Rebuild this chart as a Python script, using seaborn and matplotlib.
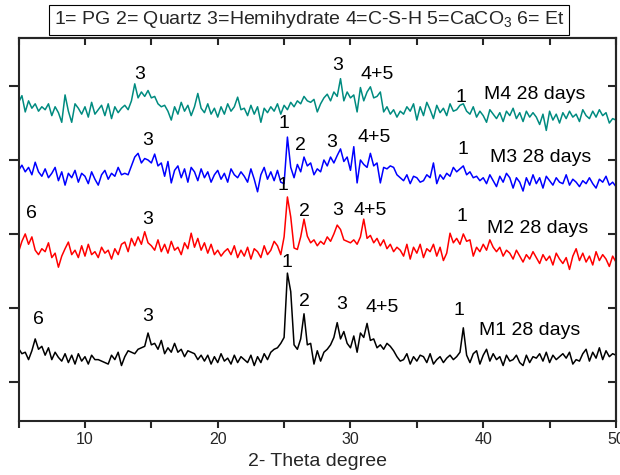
import numpy as np
import pandas as pd
import matplotlib
matplotlib.use("Agg")
import matplotlib.pyplot as plt
from matplotlib.ticker import MultipleLocator, NullFormatter
import seaborn as sns

# 2-theta grid (degrees)
two_theta = np.arange(5.0, 50.0001, 0.25)

# Intensities (arbitrary units), 4 points per degree
m1 = [45, 38, 40, 30, 42, 58, 44, 48, 36, 46, 30, 40, 33, 28, 38, 26,
      36, 24, 38, 28, 34, 24, 36, 30, 30, 28, 26, 24, 36, 30, 40, 22,
      34, 42, 40, 38, 44, 46, 48, 66, 50, 52, 44, 56, 38, 46, 40, 52,
      40, 44, 34, 42, 40, 38, 30, 36, 28, 36, 24, 34, 26, 38, 28, 32,
      24, 36, 26, 34, 30, 26, 36, 22, 34, 26, 38, 30, 40, 44, 46, 52,
      60, 147, 122, 50, 44, 58, 92, 50, 52, 24, 42, 28, 40, 44, 50, 60,
      80, 58, 68, 52, 46, 62, 40, 66, 60, 79, 56, 58, 46, 50, 44, 52,
      48, 42, 34, 28, 30, 38, 24, 34, 28, 36, 34, 26, 38, 24, 30, 34,
      26, 32, 36, 30, 34, 40, 73, 36, 26, 38, 42, 24, 36, 44, 28, 38,
      30, 34, 22, 36, 28, 30, 36, 26, 22, 36, 26, 34, 32, 38, 28, 40,
      26, 36, 30, 34, 38, 32, 40, 24, 30, 28, 38, 44, 28, 40, 32, 46,
      30, 42, 34, 38, 36]
m2 = [36, 50, 60, 46, 56, 38, 32, 40, 36, 48, 28, 34, 15, 30, 40, 49,
      32, 38, 28, 44, 30, 46, 32, 36, 28, 42, 34, 38, 26, 40, 32, 46,
      49, 36, 54, 44, 56, 46, 63, 48, 44, 38, 52, 36, 46, 34, 50, 38,
      42, 32, 48, 40, 61, 42, 54, 38, 48, 34, 46, 32, 38, 30, 36, 40,
      32, 44, 28, 38, 30, 42, 26, 40, 36, 28, 44, 32, 38, 50, 44, 32,
      56, 110, 83, 41, 39, 56, 80, 57, 48, 52, 44, 50, 46, 56, 50, 60,
      72, 66, 52, 50, 48, 52, 46, 56, 80, 54, 58, 48, 54, 44, 52, 40,
      46, 36, 42, 38, 30, 46, 26, 42, 34, 46, 28, 40, 36, 46, 30, 42,
      24, 34, 61, 48, 54, 46, 60, 50, 52, 30, 42, 36, 46, 38, 52, 42,
      36, 42, 30, 38, 34, 26, 38, 30, 22, 32, 26, 36, 28, 20, 32, 24,
      30, 18, 34, 26, 20, 28, 12, 30, 40, 24, 34, 22, 30, 18, 36, 24,
      32, 26, 16, 30, 22]
m3 = [36, 43, 34, 40, 30, 47, 34, 28, 38, 26, 32, 40, 22, 34, 16, 32,
      26, 36, 20, 32, 28, 18, 34, 24, 16, 30, 36, 24, 32, 28, 40, 30,
      32, 30, 42, 54, 59, 46, 52, 50, 46, 58, 42, 46, 28, 48, 19, 36,
      42, 26, 38, 20, 40, 34, 22, 38, 26, 34, 20, 30, 36, 24, 32, 20,
      38, 30, 26, 34, 28, 20, 38, 24, 7, 30, 40, 24, 34, 22, 36, 20,
      18, 81, 40, 26, 44, 34, 54, 42, 46, 30, 38, 34, 50, 42, 54, 46,
      56, 65, 48, 54, 36, 68, 19, 50, 44, 40, 59, 42, 46, 19, 40, 38,
      42, 40, 30, 26, 22, 30, 18, 28, 26, 20, 22, 30, 26, 46, 18, 30,
      24, 32, 28, 40, 34, 38, 42, 30, 34, 26, 28, 22, 26, 18, 30, 22,
      14, 28, 20, 32, 26, 12, 26, 20, 8, 26, 16, 30, 18, 26, 12, 28,
      22, 16, 26, 20, 18, 30, 16, 24, 20, 14, 22, 18, 26, 18, 12, 24,
      20, 28, 16, 20, 14]
m4 = [38, 47, 25, 40, 30, 36, 26, 32, 28, 36, 20, 32, 24, 11, 48, 26,
      11, 36, 30, 22, 32, 18, 38, 22, 28, 34, 20, 36, 16, 32, 24, 30,
      34, 28, 40, 63, 44, 52, 46, 54, 44, 46, 36, 32, 34, 26, 14, 32,
      22, 38, 26, 34, 20, 32, 50, 30, 24, 36, 22, 30, 18, 32, 22, 36,
      26, 32, 45, 28, 30, 20, 34, 22, 32, 11, 30, 24, 32, 26, 36, 22,
      34, 28, 38, 32, 40, 36, 46, 40, 38, 42, 25, 36, 44, 49, 40, 52,
      46, 70, 40, 52, 44, 48, 25, 58, 40, 52, 59, 44, 46, 52, 25, 32,
      22, 28, 18, 26, 22, 32, 26, 36, 14, 32, 20, 38, 28, 16, 34, 24,
      30, 20, 36, 26, 28, 34, 36, 26, 22, 32, 18, 26, 20, 11, 28, 22,
      16, 24, 12, 26, 20, 30, 16, 24, 12, 26, 18, 24, 18, 8, 22, 0,
      26, 14, 22, 10, 24, 16, 26, 18, 22, 12, 28, 20, 16, 26, 18, 28,
      20, 24, 10, 16, 14]

series_names = ["M1 28 days", "M2 28 days", "M3 28 days", "M4 28 days"]
series_values = [m1, m2, m3, m4]
offsets = [0, 140, 250, 340]
colors = ["black", "red", "blue", "#008B80"]

# peak labels: (series index, 2theta, label)
peak_labels = [
    (0, 6.5, "6"), (0, 14.7, "3"), (0, 25.2, "1"), (0, 26.5, "2"),
    (0, 29.3, "3"), (0, 32.4, "4+5"), (0, 38.2, "1"),
    (1, 6.0, "6"), (1, 14.7, "3"), (1, 24.9, "1"), (1, 26.5, "2"),
    (1, 29.0, "3"), (1, 31.5, "4+5"), (1, 38.4, "1"),
    (2, 14.7, "3"), (2, 25.0, "1"), (2, 26.2, "2"), (2, 28.6, "3"),
    (2, 31.8, "4+5"), (2, 38.5, "1"),
    (3, 14.1, "3"), (3, 29.0, "3"), (3, 32.0, "4+5"), (3, 38.3, "1"),
]
peak_label_y = [84, 89, 162, 109, 105, 100, 97,
                228, 219, 265, 230, 232, 232, 224,
                327, 349, 320, 324, 331, 314,
                415, 428, 415, 385]
name_label_x = [43.5, 44.1, 44.3, 43.9]
name_label_y = [70, 208, 304, 388]

legend_text = "1= PG 2= Quartz 3=Hemihydrate 4=C-S-H 5=CaCO$_3$ 6= Et"

rows = []
for name, vals, off in zip(series_names, series_values, offsets):
    for t, v in zip(two_theta, vals):
        rows.append({"theta": t, "intensity": v + off, "sample": name})
df = pd.DataFrame(rows)

sns.set_theme(style="ticks")
plt.rcParams["font.family"] = ["Liberation Sans", "DejaVu Sans"]
plt.rcParams["mathtext.fontset"] = "custom"
plt.rcParams["mathtext.rm"] = "Liberation Sans"

fig = plt.figure(figsize=(6.2, 4.75), dpi=100)
ax = fig.add_axes([0.030, 0.1137, 0.9635, 0.8063])

sns.lineplot(data=df, x="theta", y="intensity", hue="sample",
             palette=dict(zip(series_names, colors)), linewidth=1.1,
             legend=False, ax=ax, estimator=None)

ax.set_xlim(5, 50)
ax.set_ylim(-53, 465)
ax.xaxis.set_major_locator(MultipleLocator(10))
ax.xaxis.set_minor_locator(MultipleLocator(5))
ax.yaxis.set_major_locator(MultipleLocator(100))
ax.yaxis.set_major_formatter(NullFormatter())
ax.set_ylabel("")
ax.set_xlabel("2- Theta degree", fontsize=14, labelpad=4)
ax.tick_params(axis="x", which="major", direction="out", length=5, width=1.5,
               labelsize=11.5, pad=3)
ax.tick_params(axis="x", which="minor", direction="out", length=5, width=1.5)
ax.tick_params(axis="y", which="major", direction="out", length=7, width=1.5)
for side in ["left", "right", "top", "bottom"]:
    ax.spines[side].set_linewidth(1.5)
    ax.spines[side].set_visible(True)

# inward ticks on top and right
top = ax.secondary_xaxis("top")
top.xaxis.set_major_locator(MultipleLocator(5))
top.xaxis.set_major_formatter(NullFormatter())
top.tick_params(direction="in", length=5, width=1.5)
top.spines["top"].set_linewidth(1.5)
right = ax.secondary_yaxis("right")
right.yaxis.set_major_locator(MultipleLocator(100))
right.yaxis.set_major_formatter(NullFormatter())
right.tick_params(direction="in", length=6, width=1.5)
right.spines["right"].set_linewidth(1.5)

for (si, x, lab), y in zip(peak_labels, peak_label_y):
    ax.text(x, y, lab, ha="center", va="center", fontsize=14, color="black")
for name, x, y in zip(series_names, name_label_x, name_label_y):
    ax.text(x, y, name, ha="center", va="center", fontsize=14, color="black")

fig.text(0.4985, 0.958, legend_text, ha="center", va="center", fontsize=14,
         bbox=dict(boxstyle="square,pad=0.22", facecolor="white",
                   edgecolor="black", linewidth=0.8))

fig.savefig("out.png", dpi=100)
